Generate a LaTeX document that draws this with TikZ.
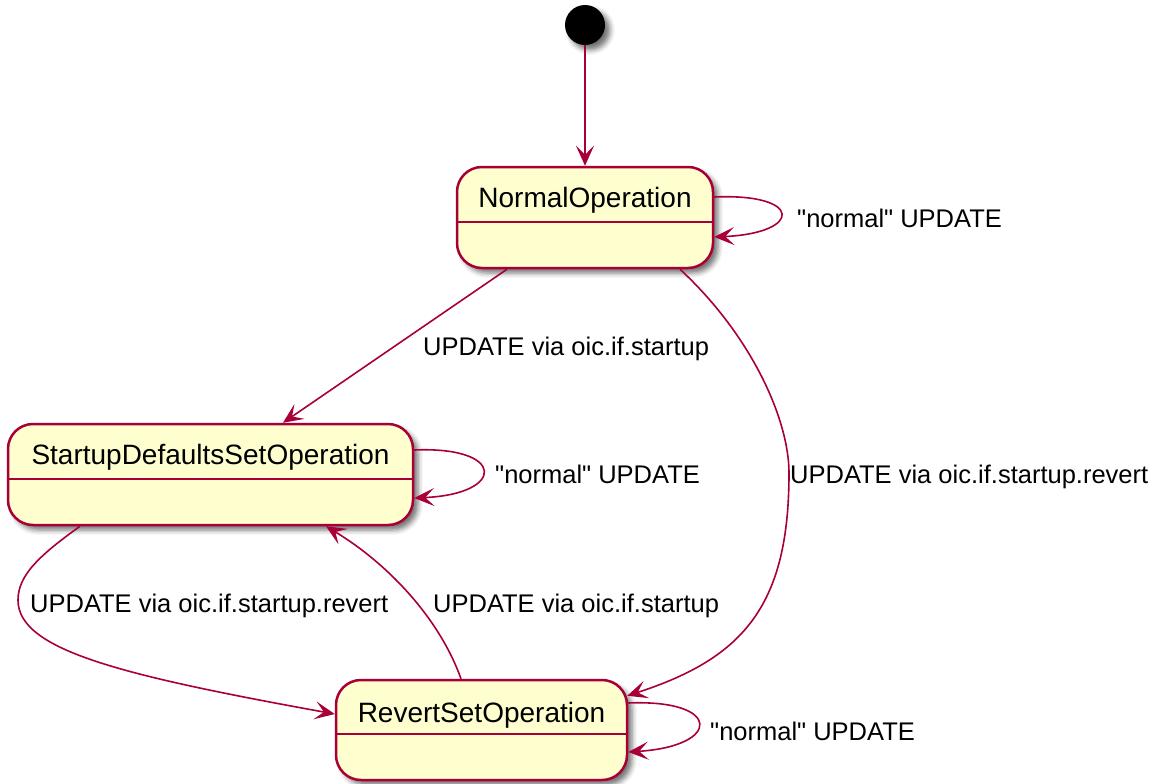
\documentclass[tikz,border=0pt]{standalone}
\usepackage{fontspec}
\setmainfont{Liberation Sans}[Ligatures=TeXOff]
\usetikzlibrary{arrows.meta,calc,shadows.blur}
\definecolor{umlred}{RGB}{168,0,54}
\definecolor{umlfill}{RGB}{254,254,206}
\begin{document}
\begin{tikzpicture}[x=1pt,y=-1pt,
  shad/.style={blur shadow={shadow xshift=5pt,shadow yshift=-5pt,shadow blur radius=5pt,shadow opacity=55}},
  state/.style={draw=umlred, line width=2.5pt, fill=umlfill, rounded corners=25pt, inner sep=0pt, shad},
  stname/.style={font=\fontsize{28}{32}\selectfont, inner sep=0pt, anchor=base},
  lbl/.style={font=\fontsize{25.5}{30}\selectfont, inner sep=0pt, anchor=base west},
  tr/.style={draw=umlred, line width=1.6pt, -{Stealth[length=20pt,width=18pt,inset=9pt]}},
  divider/.style={draw=umlred, line width=2.2pt}]
\useasboundingbox (0,0) rectangle (1156,784);

% states
\node[circle, fill=black, minimum size=40pt, inner sep=0pt, shad] (init) at (585,25) {};

\node[state, minimum width=256pt, minimum height=101pt] (normal) at (585,217.5) {};
\draw[divider] (normal.west |- 0,222) -- (normal.east |- 0,222);
\node[stname] (normalT) at (585,207) {NormalOperation};

\node[state, minimum width=405pt, minimum height=101pt] (startup) at (210.5,474.5) {};
\draw[divider] (startup.west |- 0,479) -- (startup.east |- 0,479);
\node[stname] (startupT) at (210.5,464) {StartupDefaultsSetOperation};

\node[state, minimum width=291pt, minimum height=100pt] (revert) at (481.5,730) {};
\draw[divider] (revert.west |- 0,734) -- (revert.east |- 0,734);
\node[stname] (revertT) at (481.5,722) {RevertSetOperation};

% transitions
\draw[tr] (init) -- (normal);

\draw[tr] ($(normal.east)+(0,-20.5)$) .. controls (803,193) and (803,233) .. ($(normal.east)+(0,19.5)$);

\draw[tr] ($(normal.south)+(-78,0)$) -- ($(startup.north)+(72.5,0)$);

\draw[tr] ($(normal.south)+(95,0)$) .. controls (752,336) and (789,420) .. (789,473)
  .. controls (789,605) and (744,658) .. ($(revert.north east)+(-1,17)$);

\draw[tr] ($(startup.east)+(0,-24.5)$) .. controls (506,446) and (506,494) .. ($(startup.east)+(0,23.5)$);

\draw[tr] ($(startup.south)+(-130.5,0)$) .. controls (40,555) and (18,575) .. (18,600)
  .. controls (18,650) and (120,675) .. ($(revert.west)+(0,-16)$);

\draw[tr] ($(revert.north)+(-20.5,0)$) .. controls (440,620) and (390,565) .. ($(startup.south)+(115.5,0)$);

\draw[tr] ($(revert.east)+(0,-27)$) .. controls (722,699) and (722,746) .. ($(revert.east)+(0,22)$);

% labels
\node[lbl] (l1) at (797,227) {"normal" UPDATE};
\node[lbl] (l2) at (423,355) {UPDATE via oic.if.startup};
\node[lbl] (l3) at (790,483) {UPDATE via oic.if.startup.revert};
\node[lbl] (l4) at (495,483) {"normal" UPDATE};
\node[lbl] (l5) at (30,612) {UPDATE via oic.if.startup.revert};
\node[lbl] (l6) at (433,612) {UPDATE via oic.if.startup};
\node[lbl] (l7) at (710,740) {"normal" UPDATE};
\end{tikzpicture}
\end{document}
